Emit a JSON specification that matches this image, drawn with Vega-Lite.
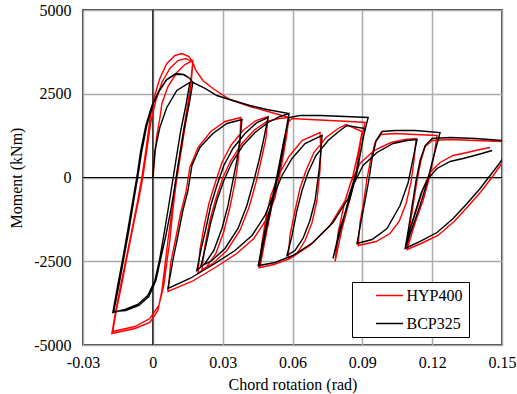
{
"width": 419, "height": 335,
"autosize": {"type": "none"},
"padding": {"left": 83, "top": 10, "right": 15, "bottom": 49},
"background": "white",
"datasets": {
"bcp": [
{"x":0,"y":0},{"x":0.0009,"y":806},{"x":0.0030,"y":1493},{"x":0.0060,"y":2090},{"x":0.0103,"y":2597},{"x":0.0159,"y":2836},
{"x":0.0142,"y":2149},{"x":0.0120,"y":1403},{"x":0.0099,"y":507},{"x":0.0082,"y":-239},{"x":0.0065,"y":-985},{"x":0.0047,"y":-1731},{"x":0.0030,"y":-2418},{"x":0.0009,"y":-3075},{"x":-0.0022,"y":-3522},{"x":-0.0065,"y":-3791},{"x":-0.0120,"y":-3940},{"x":-0.0172,"y":-4030},
{"x":-0.0151,"y":-3224},{"x":-0.0129,"y":-2418},{"x":-0.0108,"y":-1582},{"x":-0.0086,"y":-687},{"x":-0.0069,"y":0},{"x":-0.0052,"y":806},{"x":-0.0030,"y":1552},{"x":-0.0004,"y":2149},{"x":0.0022,"y":2537},{"x":0.0056,"y":2895},{"x":0.0095,"y":3075},{"x":0.0129,"y":3075},{"x":0.0159,"y":2955},{"x":0.0172,"y":2836},
{"x":0.0155,"y":2149},{"x":0.0133,"y":1403},{"x":0.0112,"y":507},{"x":0.0095,"y":-239},{"x":0.0077,"y":-985},{"x":0.0056,"y":-1731},{"x":0.0034,"y":-2418},{"x":0.0013,"y":-3075},{"x":-0.0017,"y":-3552},{"x":-0.0060,"y":-3821},{"x":-0.0116,"y":-3970},{"x":-0.0168,"y":-4000},
{"x":-0.0146,"y":-3224},{"x":-0.0125,"y":-2418},{"x":-0.0103,"y":-1582},{"x":-0.0082,"y":-687},{"x":-0.0065,"y":0},{"x":-0.0047,"y":806},{"x":-0.0026,"y":1552},{"x":0,"y":2179},{"x":0.0026,"y":2567},{"x":0.0060,"y":2925},{"x":0.0099,"y":3104},{"x":0.0133,"y":3075},{"x":0.0159,"y":2955},{"x":0.0172,"y":2836},
{"x":0.0224,"y":2657},{"x":0.0275,"y":2448},{"x":0.0344,"y":2298},{"x":0.0417,"y":2149},{"x":0.0490,"y":2030},{"x":0.0585,"y":1910},
{"x":0.0572,"y":1403},{"x":0.0559,"y":806},{"x":0.0542,"y":149},{"x":0.0516,"y":-537},{"x":0.0482,"y":-1134},{"x":0.0426,"y":-1731},{"x":0.0353,"y":-2179},{"x":0.0267,"y":-2567},{"x":0.0159,"y":-3015},{"x":0.0065,"y":-3313},
{"x":0.0086,"y":-2478},{"x":0.0108,"y":-1731},{"x":0.0129,"y":-985},{"x":0.0151,"y":-388},{"x":0.0168,"y":358},{"x":0.0202,"y":896},{"x":0.0258,"y":1313},{"x":0.0318,"y":1612},{"x":0.0383,"y":1731},
{"x":0.0374,"y":1104},{"x":0.0361,"y":507},{"x":0.0344,"y":-90},{"x":0.0323,"y":-836},{"x":0.0297,"y":-1522},{"x":0.0262,"y":-2179},{"x":0.0224,"y":-2567},{"x":0.0189,"y":-2776},
{"x":0.0206,"y":-2179},{"x":0.0228,"y":-1522},{"x":0.0249,"y":-836},{"x":0.0275,"y":-239},{"x":0.0305,"y":358},{"x":0.0344,"y":866},{"x":0.0396,"y":1313},{"x":0.0447,"y":1642},{"x":0.0495,"y":1791},
{"x":0.0477,"y":1164},{"x":0.0456,"y":507},{"x":0.0434,"y":-90},{"x":0.0404,"y":-836},{"x":0.0366,"y":-1522},{"x":0.0310,"y":-2119},{"x":0.0254,"y":-2478},{"x":0.0206,"y":-2657},
{"x":0.0228,"y":-2030},{"x":0.0249,"y":-1343},{"x":0.0275,"y":-687},{"x":0.0305,"y":-90},{"x":0.0340,"y":448},{"x":0.0387,"y":955},{"x":0.0439,"y":1343},{"x":0.0495,"y":1642},{"x":0.0546,"y":1821},{"x":0.0585,"y":1910},
{"x":0.0572,"y":1403},{"x":0.0555,"y":806},{"x":0.0538,"y":209},{"x":0.0520,"y":-388},{"x":0.0503,"y":-985},{"x":0.0486,"y":-1582},{"x":0.0469,"y":-2119},{"x":0.0452,"y":-2657},
{"x":0.0473,"y":-1881},{"x":0.0495,"y":-1134},{"x":0.0520,"y":-537},{"x":0.0555,"y":60},{"x":0.0598,"y":567},{"x":0.0654,"y":1015},{"x":0.0727,"y":1254},
{"x":0.0722,"y":806},{"x":0.0714,"y":209},{"x":0.0697,"y":-687},{"x":0.0675,"y":-1284},{"x":0.0645,"y":-1821},{"x":0.0611,"y":-2179},{"x":0.0576,"y":-2328},
{"x":0.0598,"y":-1731},{"x":0.0619,"y":-985},{"x":0.0641,"y":-388},{"x":0.0667,"y":149},{"x":0.0701,"y":657},{"x":0.0753,"y":1104},{"x":0.0804,"y":1403},{"x":0.0834,"y":1552},{"x":0.0912,"y":1463},
{"x":0.0894,"y":806},{"x":0.0873,"y":119},{"x":0.0839,"y":-627},{"x":0.0774,"y":-1343},{"x":0.0688,"y":-1940},{"x":0.0602,"y":-2328},{"x":0.0525,"y":-2537},{"x":0.0456,"y":-2627},
{"x":0.0486,"y":-1582},{"x":0.0520,"y":-537},{"x":0.0550,"y":507},{"x":0.0572,"y":1403},{"x":0.0585,"y":1791},{"x":0.0632,"y":1851},{"x":0.0718,"y":1851},{"x":0.0826,"y":1821},{"x":0.0925,"y":1791},
{"x":0.0903,"y":1164},{"x":0.0877,"y":149},{"x":0.0847,"y":-627},{"x":0.0804,"y":-1522},{"x":0.0774,"y":-2418},
{"x":0.0804,"y":-1642},{"x":0.0834,"y":-836},{"x":0.0860,"y":-239},{"x":0.0903,"y":358},{"x":0.0963,"y":746},{"x":0.1032,"y":1015},{"x":0.1092,"y":1104},{"x":0.1135,"y":1134},
{"x":0.1118,"y":567},{"x":0.1097,"y":-149},{"x":0.1062,"y":-836},{"x":0.1006,"y":-1522},{"x":0.0942,"y":-1851},{"x":0.0877,"y":-1970},
{"x":0.0894,"y":-1343},{"x":0.0912,"y":-687},{"x":0.0929,"y":-30},{"x":0.0942,"y":567},{"x":0.0959,"y":1104},{"x":0.0985,"y":1373},{"x":0.1041,"y":1403},{"x":0.1127,"y":1403},{"x":0.1234,"y":1343},
{"x":0.1204,"y":567},{"x":0.1178,"y":-149},{"x":0.1148,"y":-836},{"x":0.1118,"y":-1433},{"x":0.1084,"y":-2119},
{"x":0.1097,"y":-1582},{"x":0.1114,"y":-836},{"x":0.1131,"y":-90},{"x":0.1148,"y":507},{"x":0.1170,"y":955},{"x":0.1200,"y":1164},{"x":0.1277,"y":1194},{"x":0.1385,"y":1164},{"x":0.1501,"y":1104},{"x":0.1557,"y":1075},
{"x":0.1527,"y":806},{"x":0.1492,"y":448},{"x":0.1449,"y":60},{"x":0.1406,"y":-328},{"x":0.1350,"y":-776},{"x":0.1290,"y":-1224},{"x":0.1221,"y":-1642},{"x":0.1148,"y":-1910},{"x":0.1084,"y":-2119},
{"x":0.1101,"y":-1642},{"x":0.1127,"y":-1045},{"x":0.1152,"y":-478},{"x":0.1183,"y":-30},{"x":0.1221,"y":269},{"x":0.1277,"y":478},{"x":0.1333,"y":567},{"x":0.1398,"y":687},{"x":0.1458,"y":806}
],
"hyp": [
{"x":0,"y":0},{"x":0.0009,"y":657},{"x":0.0017,"y":1254},{"x":0.0030,"y":1761},{"x":0.0039,"y":2209},{"x":0.0065,"y":2716},{"x":0.0103,"y":3134},{"x":0.0138,"y":3373},{"x":0.0172,"y":3492},
{"x":0.0159,"y":2597},{"x":0.0142,"y":1851},{"x":0.0125,"y":1104},{"x":0.0108,"y":358},{"x":0.0095,"y":-239},{"x":0.0082,"y":-985},{"x":0.0065,"y":-1881},{"x":0.0052,"y":-2627},{"x":0.0039,"y":-3373},{"x":0.0022,"y":-3970},{"x":-0.0013,"y":-4328},{"x":-0.0077,"y":-4507},{"x":-0.0176,"y":-4657},
{"x":-0.0159,"y":-3970},{"x":-0.0138,"y":-3224},{"x":-0.0112,"y":-2328},{"x":-0.0086,"y":-1433},{"x":-0.0065,"y":-687},{"x":-0.0047,"y":0},{"x":-0.0030,"y":806},{"x":-0.0013,"y":1701},{"x":0.0004,"y":2358},{"x":0.0030,"y":2955},{"x":0.0060,"y":3403},{"x":0.0095,"y":3642},{"x":0.0125,"y":3701},{"x":0.0155,"y":3612},{"x":0.0172,"y":3433},
{"x":0.0163,"y":2657},{"x":0.0146,"y":1851},{"x":0.0129,"y":1104},{"x":0.0112,"y":358},{"x":0.0099,"y":-239},{"x":0.0086,"y":-985},{"x":0.0073,"y":-1881},{"x":0.0060,"y":-2537},{"x":0.0047,"y":-3224},{"x":0.0026,"y":-3821},{"x":-0.0013,"y":-4209},{"x":-0.0077,"y":-4448},{"x":-0.0172,"y":-4597},
{"x":-0.0155,"y":-3910},{"x":-0.0133,"y":-3164},{"x":-0.0108,"y":-2269},{"x":-0.0082,"y":-1373},{"x":-0.0060,"y":-627},{"x":-0.0043,"y":0},{"x":-0.0026,"y":806},{"x":-0.0009,"y":1642},{"x":0.0013,"y":2298},{"x":0.0039,"y":2836},{"x":0.0073,"y":3254},{"x":0.0108,"y":3492},{"x":0.0142,"y":3552},{"x":0.0172,"y":3433},
{"x":0.0185,"y":3194},{"x":0.0215,"y":2895},{"x":0.0258,"y":2657},{"x":0.0331,"y":2328},{"x":0.0417,"y":2119},{"x":0.0495,"y":1970},{"x":0.0585,"y":1791},
{"x":0.0576,"y":1313},{"x":0.0563,"y":746},{"x":0.0546,"y":90},{"x":0.0525,"y":-597},{"x":0.0490,"y":-1224},{"x":0.0434,"y":-1821},{"x":0.0361,"y":-2269},{"x":0.0275,"y":-2657},{"x":0.0168,"y":-3104},{"x":0.0065,"y":-3403},
{"x":0.0077,"y":-2537},{"x":0.0099,"y":-1791},{"x":0.0120,"y":-1045},{"x":0.0142,"y":-448},{"x":0.0159,"y":299},{"x":0.0194,"y":896},{"x":0.0249,"y":1373},{"x":0.0310,"y":1672},{"x":0.0378,"y":1791},
{"x":0.0374,"y":1104},{"x":0.0366,"y":448},{"x":0.0353,"y":-149},{"x":0.0331,"y":-896},{"x":0.0305,"y":-1612},{"x":0.0271,"y":-2269},{"x":0.0232,"y":-2657},{"x":0.0194,"y":-2866},
{"x":0.0202,"y":-2179},{"x":0.0219,"y":-1493},{"x":0.0241,"y":-776},{"x":0.0267,"y":-179},{"x":0.0297,"y":448},{"x":0.0335,"y":955},{"x":0.0387,"y":1403},{"x":0.0443,"y":1701},{"x":0.0495,"y":1821},
{"x":0.0486,"y":1164},{"x":0.0464,"y":478},{"x":0.0443,"y":-149},{"x":0.0413,"y":-896},{"x":0.0374,"y":-1582},{"x":0.0318,"y":-2179},{"x":0.0258,"y":-2567},{"x":0.0211,"y":-2746},
{"x":0.0224,"y":-2030},{"x":0.0245,"y":-1284},{"x":0.0271,"y":-627},{"x":0.0301,"y":0},{"x":0.0335,"y":507},{"x":0.0383,"y":1015},{"x":0.0434,"y":1403},{"x":0.0490,"y":1672},{"x":0.0542,"y":1761},{"x":0.0585,"y":1791},
{"x":0.0572,"y":1313},{"x":0.0555,"y":716},{"x":0.0538,"y":119},{"x":0.0520,"y":-478},{"x":0.0503,"y":-1075},{"x":0.0486,"y":-1672},{"x":0.0473,"y":-2179},{"x":0.0456,"y":-2716},
{"x":0.0469,"y":-1940},{"x":0.0486,"y":-1194},{"x":0.0507,"y":-537},{"x":0.0542,"y":90},{"x":0.0585,"y":627},{"x":0.0641,"y":1104},{"x":0.0718,"y":1343},
{"x":0.0722,"y":806},{"x":0.0718,"y":209},{"x":0.0705,"y":-687},{"x":0.0684,"y":-1343},{"x":0.0654,"y":-1881},{"x":0.0619,"y":-2269},{"x":0.0581,"y":-2418},
{"x":0.0589,"y":-1731},{"x":0.0611,"y":-985},{"x":0.0632,"y":-328},{"x":0.0658,"y":209},{"x":0.0692,"y":746},{"x":0.0744,"y":1194},{"x":0.0796,"y":1463},{"x":0.0830,"y":1582},{"x":0.0899,"y":1373},
{"x":0.0882,"y":746},{"x":0.0860,"y":60},{"x":0.0826,"y":-687},{"x":0.0761,"y":-1433},{"x":0.0675,"y":-2030},{"x":0.0589,"y":-2418},{"x":0.0520,"y":-2597},{"x":0.0460,"y":-2687},
{"x":0.0486,"y":-1731},{"x":0.0516,"y":-687},{"x":0.0542,"y":269},{"x":0.0563,"y":1104},{"x":0.0581,"y":1642},{"x":0.0598,"y":1761},{"x":0.0675,"y":1731},{"x":0.0761,"y":1701},{"x":0.0847,"y":1672},{"x":0.0912,"y":1642},
{"x":0.0894,"y":1104},{"x":0.0873,"y":149},{"x":0.0847,"y":-627},{"x":0.0813,"y":-1522},{"x":0.0783,"y":-2507},
{"x":0.0796,"y":-1642},{"x":0.0821,"y":-836},{"x":0.0847,"y":-209},{"x":0.0890,"y":418},{"x":0.0950,"y":806},{"x":0.1023,"y":1045},{"x":0.1084,"y":1134},{"x":0.1131,"y":1164},
{"x":0.1122,"y":507},{"x":0.1109,"y":-149},{"x":0.1088,"y":-776},{"x":0.1058,"y":-1313},{"x":0.1019,"y":-1672},{"x":0.0959,"y":-1910},{"x":0.0882,"y":-2030},
{"x":0.0890,"y":-1343},{"x":0.0907,"y":-687},{"x":0.0920,"y":-30},{"x":0.0937,"y":567},{"x":0.0955,"y":1045},{"x":0.0980,"y":1284},{"x":0.1041,"y":1313},{"x":0.1127,"y":1284},{"x":0.1221,"y":1254},
{"x":0.1208,"y":657},{"x":0.1187,"y":-30},{"x":0.1161,"y":-687},{"x":0.1127,"y":-1343},{"x":0.1092,"y":-2149},
{"x":0.1101,"y":-1582},{"x":0.1118,"y":-836},{"x":0.1135,"y":-90},{"x":0.1152,"y":507},{"x":0.1170,"y":925},{"x":0.1200,"y":1104},{"x":0.1277,"y":1134},{"x":0.1385,"y":1104},{"x":0.1501,"y":1075},{"x":0.1557,"y":1045},
{"x":0.1527,"y":746},{"x":0.1496,"y":388},{"x":0.1453,"y":-30},{"x":0.1410,"y":-418},{"x":0.1354,"y":-866},{"x":0.1294,"y":-1313},{"x":0.1225,"y":-1731},{"x":0.1152,"y":-1970},{"x":0.1092,"y":-2149},
{"x":0.1105,"y":-1522},{"x":0.1135,"y":-925},{"x":0.1161,"y":-328},{"x":0.1191,"y":149},{"x":0.1234,"y":448},{"x":0.1290,"y":657},{"x":0.1350,"y":746},{"x":0.1406,"y":836},{"x":0.1449,"y":896}
]
},
"layer": [
{"data": {"values": [{"x": 0}]},
 "mark": {"type": "rule", "color": "black", "strokeWidth": 1.2},
 "encoding": {"x": {"field": "x", "type": "quantitative", "title": "Chord rotation (rad)", "scale": {"domain": [-0.03, 0.15], "nice": false, "zero": false}}}},
{"data": {"values": [{"y": 0}]},
 "mark": {"type": "rule", "color": "black", "strokeWidth": 1.2},
 "encoding": {"y": {"field": "y", "type": "quantitative", "title": "Moment (kNm)", "scale": {"domain": [-5000, 5000], "nice": false}}}},
{"data": {"name": "hyp"},
 "mark": {"type": "line", "clip": true, "strokeWidth": 1.4},
 "encoding": {
  "x": {"field": "x", "type": "quantitative", "title": "Chord rotation (rad)", "scale": {"domain": [-0.03, 0.15], "nice": false, "zero": false},
        "axis": {"values": [-0.03, 0, 0.03, 0.06, 0.09, 0.12, 0.15], "labelFlush": false, "labelPadding": 9, "titlePadding": 6,
                 "labelFont": "serif", "titleFont": "serif", "labelFontSize": 16, "titleFontSize": 16, "titleFontWeight": "normal",
                 "labelExpr": "datum.value == 0 ? '0' : (datum.value < 0 ? '-' : '') + format(abs(datum.value), '.2f')"}},
  "y": {"field": "y", "type": "quantitative", "title": "Moment (kNm)", "scale": {"domain": [-5000, 5000], "nice": false},
        "axis": {"values": [-5000, -2500, 0, 2500, 5000], "labelPadding": 12, "titlePadding": 9,
                 "labelFont": "serif", "titleFont": "serif", "labelFontSize": 16, "titleFontSize": 16, "titleFontWeight": "normal",
                 "labelExpr": "(datum.value < 0 ? '-' : '') + format(abs(datum.value), 'd')"}},
  "color": {"datum": "HYP400", "type": "nominal",
            "scale": {"domain": ["HYP400", "BCP325"], "range": ["#ff0000", "#000000"]},
            "legend": {"title": null, "orient": "none", "legendX": 269, "legendY": 272,
                       "strokeColor": "black", "fillColor": "white", "padding": 5.5,
                       "symbolType": "M-2,0H2", "symbolSize": 182, "symbolStrokeWidth": 1.5,
                       "symbolOffset": 24, "labelOffset": 9, "rowPadding": 12,
                       "labelFontSize": 16, "labelFont": "serif", "labelColor": "black",
                       "labelExpr": "datum.label + '\u00a0\u00a0\u00a0\u00a0\u00a0\u00a0\u00a0'"}},
  "order": {"value": null}}},
{"data": {"name": "bcp"},
 "mark": {"type": "line", "clip": true, "strokeWidth": 1.4},
 "encoding": {
  "x": {"field": "x", "type": "quantitative"},
  "y": {"field": "y", "type": "quantitative"},
  "color": {"datum": "BCP325", "type": "nominal"},
  "order": {"value": null}}}
],
"config": {
 "view": {"stroke": "black", "strokeWidth": 1.5},
 "axis": {"grid": true, "gridColor": "#ababab", "gridWidth": 1.5, "ticks": false, "domain": false,
          "labelColor": "black", "titleColor": "black"}
}
}
